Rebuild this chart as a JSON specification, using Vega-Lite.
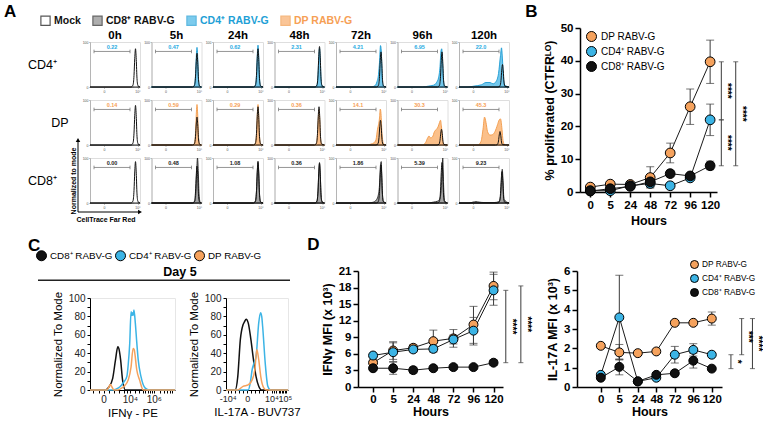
{
"padding": {"left": 3, "top": 3, "right": 0, "bottom": 0},
"background": "white",
"config": {
  "font": "Liberation Sans",
  "view": {"stroke": null},
  "axis": {"grid": false, "domainColor": "#000", "domainWidth": 1.5, "tickColor": "#000", "tickWidth": 1.5, "tickSize": 5, "labelColor": "#000", "labelFontSize": 11.5, "labelFontWeight": "bold", "labelPadding": 2, "titleColor": "#000", "titleFontSize": 12.5, "titleFontWeight": "bold", "titlePadding": 4, "labelOverlap": false},
  "axisY": {"labelOverlap": false, "labelBound": false},
  "axisLeft": {"labelOverlap": false},
  "axisQuantitative": {"labelOverlap": false},
  "axisX": {"labelAngle": 0},
  "title": {"fontSize": 17, "fontWeight": "bold", "anchor": "start", "frame": "bounds", "color": "#000"}
},
"spacing": 9,
"resolve": {"scale": {"fill": "independent", "stroke": "independent", "color": "independent"}},
"vconcat": [
{
 "spacing": 13,
 "resolve": {"scale": {"fill": "independent", "stroke": "independent", "color": "independent"}},
 "hconcat": [
 {
  "title": {"text": "A", "offset": -6, "dx": -24},
  "spacing": 0,
  "resolve": {"scale": {"fill": "independent", "stroke": "independent", "color": "independent"}},
  "vconcat": [
  {
   "width": 1, "height": 1,
   "data": {"values": [{"s": "M"}]},
   "transform": [{"filter": "false"}],
   "mark": {"type": "point", "shape": "square", "filled": true, "strokeWidth": 1.2},
   "encoding": {
    "fill": {"field": "s", "type": "nominal", "scale": {"domain": ["M", "8", "4", "D"], "range": ["transparent", "#8c8c8c", "#45b6e6", "#f9ad6c"]},
      "legend": {"orient": "none", "legendX": -50, "legendY": -13, "direction": "horizontal", "columns": 4, "title": null, "symbolType": "square", "symbolSize": 85, "symbolStrokeWidth": 1.2, "labelFontSize": 10.5, "labelFontWeight": "bold", "labelOffset": 3, "columnPadding": 9,
        "labelExpr": "datum.value == 'M' ? 'Mock' : datum.value == '8' ? 'CD8⁺ RABV-G' : datum.value == '4' ? 'CD4⁺ RABV-G' : 'DP RABV-G'",
        "labelColor": {"expr": "datum.value == '4' ? '#1e9fd6' : datum.value == 'D' ? '#f6a055' : '#111'"}}},
    "stroke": {"field": "s", "type": "nominal", "scale": {"domain": ["M", "8", "4", "D"], "range": ["#111111", "#262626", "#1b9bd3", "#f29a48"]},
      "legend": {"orient": "none", "legendX": -50, "legendY": -13, "direction": "horizontal", "columns": 4, "title": null, "symbolType": "square", "symbolSize": 85, "symbolStrokeWidth": 1.2, "labelFontSize": 10.5, "labelFontWeight": "bold", "labelOffset": 3, "columnPadding": 9,
        "labelExpr": "datum.value == 'M' ? 'Mock' : datum.value == '8' ? 'CD8⁺ RABV-G' : datum.value == '4' ? 'CD4⁺ RABV-G' : 'DP RABV-G'",
        "labelColor": {"expr": "datum.value == '4' ? '#1e9fd6' : datum.value == 'D' ? '#f6a055' : '#111'"}}}
   }
  },
  {
  "data": {"values": [
{"r":"CD4⁺","c":"0h","s":"M","x":0,"y":0},{"r":"CD4⁺","c":"0h","s":"M","x":82,"y":0},{"r":"CD4⁺","c":"0h","s":"M","x":86,"y":4.3},{"r":"CD4⁺","c":"0h","s":"M","x":88,"y":25.5},{"r":"CD4⁺","c":"0h","s":"M","x":89.5,"y":63.8},{"r":"CD4⁺","c":"0h","s":"M","x":91,"y":85},{"r":"CD4⁺","c":"0h","s":"M","x":92.5,"y":61.2},{"r":"CD4⁺","c":"0h","s":"M","x":94,"y":18.7},{"r":"CD4⁺","c":"0h","s":"M","x":96,"y":2.6},{"r":"CD4⁺","c":"0h","s":"M","x":100,"y":0},
{"r":"CD4⁺","c":"5h","s":"M","x":0,"y":0},{"r":"CD4⁺","c":"5h","s":"M","x":82,"y":0},{"r":"CD4⁺","c":"5h","s":"M","x":86,"y":3.8},{"r":"CD4⁺","c":"5h","s":"M","x":88,"y":22.5},{"r":"CD4⁺","c":"5h","s":"M","x":89.5,"y":56.3},{"r":"CD4⁺","c":"5h","s":"M","x":91,"y":75},{"r":"CD4⁺","c":"5h","s":"M","x":92.5,"y":54},{"r":"CD4⁺","c":"5h","s":"M","x":94,"y":16.5},{"r":"CD4⁺","c":"5h","s":"M","x":96,"y":2.3},{"r":"CD4⁺","c":"5h","s":"M","x":100,"y":0},
{"r":"CD4⁺","c":"5h","s":"4","x":0,"y":0},{"r":"CD4⁺","c":"5h","s":"4","x":82,"y":0},{"r":"CD4⁺","c":"5h","s":"4","x":86,"y":4.4},{"r":"CD4⁺","c":"5h","s":"4","x":88,"y":26.4},{"r":"CD4⁺","c":"5h","s":"4","x":89.5,"y":66},{"r":"CD4⁺","c":"5h","s":"4","x":91,"y":88},{"r":"CD4⁺","c":"5h","s":"4","x":92.5,"y":63.4},{"r":"CD4⁺","c":"5h","s":"4","x":94,"y":19.4},{"r":"CD4⁺","c":"5h","s":"4","x":96,"y":2.6},{"r":"CD4⁺","c":"5h","s":"4","x":100,"y":0},
{"r":"CD4⁺","c":"24h","s":"M","x":0,"y":0},{"r":"CD4⁺","c":"24h","s":"M","x":81,"y":0},{"r":"CD4⁺","c":"24h","s":"M","x":85,"y":4.3},{"r":"CD4⁺","c":"24h","s":"M","x":87,"y":25.5},{"r":"CD4⁺","c":"24h","s":"M","x":88.5,"y":63.8},{"r":"CD4⁺","c":"24h","s":"M","x":90,"y":85},{"r":"CD4⁺","c":"24h","s":"M","x":91.5,"y":61.2},{"r":"CD4⁺","c":"24h","s":"M","x":93,"y":18.7},{"r":"CD4⁺","c":"24h","s":"M","x":95,"y":2.6},{"r":"CD4⁺","c":"24h","s":"M","x":100,"y":0},
{"r":"CD4⁺","c":"24h","s":"4","x":0,"y":0},{"r":"CD4⁺","c":"24h","s":"4","x":81,"y":0},{"r":"CD4⁺","c":"24h","s":"4","x":85,"y":4.7},{"r":"CD4⁺","c":"24h","s":"4","x":87,"y":27.9},{"r":"CD4⁺","c":"24h","s":"4","x":88.5,"y":69.8},{"r":"CD4⁺","c":"24h","s":"4","x":90,"y":93},{"r":"CD4⁺","c":"24h","s":"4","x":91.5,"y":67},{"r":"CD4⁺","c":"24h","s":"4","x":93,"y":20.5},{"r":"CD4⁺","c":"24h","s":"4","x":95,"y":2.8},{"r":"CD4⁺","c":"24h","s":"4","x":100,"y":0},
{"r":"CD4⁺","c":"48h","s":"M","x":0,"y":0},{"r":"CD4⁺","c":"48h","s":"M","x":81,"y":0},{"r":"CD4⁺","c":"48h","s":"M","x":85,"y":4.5},{"r":"CD4⁺","c":"48h","s":"M","x":87,"y":27},{"r":"CD4⁺","c":"48h","s":"M","x":88.5,"y":67.5},{"r":"CD4⁺","c":"48h","s":"M","x":90,"y":90},{"r":"CD4⁺","c":"48h","s":"M","x":91.5,"y":64.8},{"r":"CD4⁺","c":"48h","s":"M","x":93,"y":19.8},{"r":"CD4⁺","c":"48h","s":"M","x":95,"y":2.7},{"r":"CD4⁺","c":"48h","s":"M","x":100,"y":0},
{"r":"CD4⁺","c":"48h","s":"4","x":0,"y":0},{"r":"CD4⁺","c":"48h","s":"4","x":81,"y":0},{"r":"CD4⁺","c":"48h","s":"4","x":85,"y":4.3},{"r":"CD4⁺","c":"48h","s":"4","x":87,"y":25.8},{"r":"CD4⁺","c":"48h","s":"4","x":88.5,"y":64.5},{"r":"CD4⁺","c":"48h","s":"4","x":90,"y":86},{"r":"CD4⁺","c":"48h","s":"4","x":91.5,"y":61.9},{"r":"CD4⁺","c":"48h","s":"4","x":93,"y":18.9},{"r":"CD4⁺","c":"48h","s":"4","x":95,"y":2.6},{"r":"CD4⁺","c":"48h","s":"4","x":100,"y":0},
{"r":"CD4⁺","c":"72h","s":"M","x":0,"y":0},{"r":"CD4⁺","c":"72h","s":"M","x":81,"y":0},{"r":"CD4⁺","c":"72h","s":"M","x":85,"y":3.9},{"r":"CD4⁺","c":"72h","s":"M","x":87,"y":23.4},{"r":"CD4⁺","c":"72h","s":"M","x":88.5,"y":58.5},{"r":"CD4⁺","c":"72h","s":"M","x":90,"y":78},{"r":"CD4⁺","c":"72h","s":"M","x":91.5,"y":56.2},{"r":"CD4⁺","c":"72h","s":"M","x":93,"y":17.2},{"r":"CD4⁺","c":"72h","s":"M","x":95,"y":2.3},{"r":"CD4⁺","c":"72h","s":"M","x":100,"y":0},
{"r":"CD4⁺","c":"72h","s":"4","x":0,"y":0},{"r":"CD4⁺","c":"72h","s":"4","x":70,"y":0},{"r":"CD4⁺","c":"72h","s":"4","x":78,"y":3},{"r":"CD4⁺","c":"72h","s":"4","x":82,"y":12},{"r":"CD4⁺","c":"72h","s":"4","x":85,"y":28},{"r":"CD4⁺","c":"72h","s":"4","x":87,"y":55},{"r":"CD4⁺","c":"72h","s":"4","x":89,"y":92},{"r":"CD4⁺","c":"72h","s":"4","x":90.5,"y":80},{"r":"CD4⁺","c":"72h","s":"4","x":92,"y":30},{"r":"CD4⁺","c":"72h","s":"4","x":94,"y":4},{"r":"CD4⁺","c":"72h","s":"4","x":100,"y":0},
{"r":"CD4⁺","c":"96h","s":"M","x":0,"y":0},{"r":"CD4⁺","c":"96h","s":"M","x":80,"y":0},{"r":"CD4⁺","c":"96h","s":"M","x":84,"y":3.9},{"r":"CD4⁺","c":"96h","s":"M","x":86,"y":23.4},{"r":"CD4⁺","c":"96h","s":"M","x":87.5,"y":58.5},{"r":"CD4⁺","c":"96h","s":"M","x":89,"y":78},{"r":"CD4⁺","c":"96h","s":"M","x":90.5,"y":56.2},{"r":"CD4⁺","c":"96h","s":"M","x":92,"y":17.2},{"r":"CD4⁺","c":"96h","s":"M","x":94,"y":2.3},{"r":"CD4⁺","c":"96h","s":"M","x":100,"y":0},
{"r":"CD4⁺","c":"96h","s":"4","x":0,"y":0},{"r":"CD4⁺","c":"96h","s":"4","x":50,"y":0},{"r":"CD4⁺","c":"96h","s":"4","x":62,"y":2},{"r":"CD4⁺","c":"96h","s":"4","x":72,"y":4},{"r":"CD4⁺","c":"96h","s":"4","x":78,"y":10},{"r":"CD4⁺","c":"96h","s":"4","x":82,"y":20},{"r":"CD4⁺","c":"96h","s":"4","x":85,"y":45},{"r":"CD4⁺","c":"96h","s":"4","x":87,"y":80},{"r":"CD4⁺","c":"96h","s":"4","x":88.5,"y":85},{"r":"CD4⁺","c":"96h","s":"4","x":90,"y":55},{"r":"CD4⁺","c":"96h","s":"4","x":92,"y":15},{"r":"CD4⁺","c":"96h","s":"4","x":94,"y":2},{"r":"CD4⁺","c":"96h","s":"4","x":100,"y":0},
{"r":"CD4⁺","c":"120h","s":"M","x":0,"y":0},{"r":"CD4⁺","c":"120h","s":"M","x":78,"y":0},{"r":"CD4⁺","c":"120h","s":"M","x":82,"y":2.5},{"r":"CD4⁺","c":"120h","s":"M","x":84,"y":15},{"r":"CD4⁺","c":"120h","s":"M","x":85.5,"y":37.5},{"r":"CD4⁺","c":"120h","s":"M","x":87,"y":50},{"r":"CD4⁺","c":"120h","s":"M","x":88.5,"y":36},{"r":"CD4⁺","c":"120h","s":"M","x":90,"y":11},{"r":"CD4⁺","c":"120h","s":"M","x":92,"y":1.5},{"r":"CD4⁺","c":"120h","s":"M","x":100,"y":0},
{"r":"CD4⁺","c":"120h","s":"4","x":0,"y":0},{"r":"CD4⁺","c":"120h","s":"4","x":18,"y":0},{"r":"CD4⁺","c":"120h","s":"4","x":30,"y":2},{"r":"CD4⁺","c":"120h","s":"4","x":45,"y":5},{"r":"CD4⁺","c":"120h","s":"4","x":54,"y":10},{"r":"CD4⁺","c":"120h","s":"4","x":62,"y":10},{"r":"CD4⁺","c":"120h","s":"4","x":68,"y":7},{"r":"CD4⁺","c":"120h","s":"4","x":74,"y":12},{"r":"CD4⁺","c":"120h","s":"4","x":79,"y":30},{"r":"CD4⁺","c":"120h","s":"4","x":83,"y":70},{"r":"CD4⁺","c":"120h","s":"4","x":85,"y":87},{"r":"CD4⁺","c":"120h","s":"4","x":87,"y":60},{"r":"CD4⁺","c":"120h","s":"4","x":89,"y":20},{"r":"CD4⁺","c":"120h","s":"4","x":91,"y":5},{"r":"CD4⁺","c":"120h","s":"4","x":100,"y":0},
{"r":"DP","c":"0h","s":"M","x":0,"y":0},{"r":"DP","c":"0h","s":"M","x":82,"y":0},{"r":"DP","c":"0h","s":"M","x":86,"y":4.4},{"r":"DP","c":"0h","s":"M","x":88,"y":26.4},{"r":"DP","c":"0h","s":"M","x":89.5,"y":66},{"r":"DP","c":"0h","s":"M","x":91,"y":88},{"r":"DP","c":"0h","s":"M","x":92.5,"y":63.4},{"r":"DP","c":"0h","s":"M","x":94,"y":19.4},{"r":"DP","c":"0h","s":"M","x":96,"y":2.6},{"r":"DP","c":"0h","s":"M","x":100,"y":0},
{"r":"DP","c":"5h","s":"M","x":0,"y":0},{"r":"DP","c":"5h","s":"M","x":82,"y":0},{"r":"DP","c":"5h","s":"M","x":86,"y":3.1},{"r":"DP","c":"5h","s":"M","x":88,"y":18.6},{"r":"DP","c":"5h","s":"M","x":89.5,"y":46.5},{"r":"DP","c":"5h","s":"M","x":91,"y":62},{"r":"DP","c":"5h","s":"M","x":92.5,"y":44.6},{"r":"DP","c":"5h","s":"M","x":94,"y":13.6},{"r":"DP","c":"5h","s":"M","x":96,"y":1.9},{"r":"DP","c":"5h","s":"M","x":100,"y":0},
{"r":"DP","c":"5h","s":"D","x":0,"y":0},{"r":"DP","c":"5h","s":"D","x":82,"y":0},{"r":"DP","c":"5h","s":"D","x":86,"y":4.5},{"r":"DP","c":"5h","s":"D","x":88,"y":27},{"r":"DP","c":"5h","s":"D","x":89.5,"y":67.5},{"r":"DP","c":"5h","s":"D","x":91,"y":90},{"r":"DP","c":"5h","s":"D","x":92.5,"y":64.8},{"r":"DP","c":"5h","s":"D","x":94,"y":19.8},{"r":"DP","c":"5h","s":"D","x":96,"y":2.7},{"r":"DP","c":"5h","s":"D","x":100,"y":0},
{"r":"DP","c":"24h","s":"M","x":0,"y":0},{"r":"DP","c":"24h","s":"M","x":81,"y":0},{"r":"DP","c":"24h","s":"M","x":85,"y":4.3},{"r":"DP","c":"24h","s":"M","x":87,"y":25.5},{"r":"DP","c":"24h","s":"M","x":88.5,"y":63.8},{"r":"DP","c":"24h","s":"M","x":90,"y":85},{"r":"DP","c":"24h","s":"M","x":91.5,"y":61.2},{"r":"DP","c":"24h","s":"M","x":93,"y":18.7},{"r":"DP","c":"24h","s":"M","x":95,"y":2.6},{"r":"DP","c":"24h","s":"M","x":100,"y":0},
{"r":"DP","c":"24h","s":"D","x":0,"y":0},{"r":"DP","c":"24h","s":"D","x":81,"y":0},{"r":"DP","c":"24h","s":"D","x":85,"y":4.5},{"r":"DP","c":"24h","s":"D","x":87,"y":27},{"r":"DP","c":"24h","s":"D","x":88.5,"y":67.5},{"r":"DP","c":"24h","s":"D","x":90,"y":90},{"r":"DP","c":"24h","s":"D","x":91.5,"y":64.8},{"r":"DP","c":"24h","s":"D","x":93,"y":19.8},{"r":"DP","c":"24h","s":"D","x":95,"y":2.7},{"r":"DP","c":"24h","s":"D","x":100,"y":0},
{"r":"DP","c":"48h","s":"M","x":0,"y":0},{"r":"DP","c":"48h","s":"M","x":80,"y":0},{"r":"DP","c":"48h","s":"M","x":84,"y":4.3},{"r":"DP","c":"48h","s":"M","x":86,"y":25.5},{"r":"DP","c":"48h","s":"M","x":87.5,"y":63.8},{"r":"DP","c":"48h","s":"M","x":89,"y":85},{"r":"DP","c":"48h","s":"M","x":90.5,"y":61.2},{"r":"DP","c":"48h","s":"M","x":92,"y":18.7},{"r":"DP","c":"48h","s":"M","x":94,"y":2.6},{"r":"DP","c":"48h","s":"M","x":100,"y":0},
{"r":"DP","c":"48h","s":"D","x":0,"y":0},{"r":"DP","c":"48h","s":"D","x":80,"y":0},{"r":"DP","c":"48h","s":"D","x":84,"y":3.9},{"r":"DP","c":"48h","s":"D","x":86,"y":23.4},{"r":"DP","c":"48h","s":"D","x":87.5,"y":58.5},{"r":"DP","c":"48h","s":"D","x":89,"y":78},{"r":"DP","c":"48h","s":"D","x":90.5,"y":56.2},{"r":"DP","c":"48h","s":"D","x":92,"y":17.2},{"r":"DP","c":"48h","s":"D","x":94,"y":2.3},{"r":"DP","c":"48h","s":"D","x":100,"y":0},
{"r":"DP","c":"72h","s":"M","x":0,"y":0},{"r":"DP","c":"72h","s":"M","x":80,"y":0},{"r":"DP","c":"72h","s":"M","x":84,"y":2.8},{"r":"DP","c":"72h","s":"M","x":86,"y":16.5},{"r":"DP","c":"72h","s":"M","x":87.5,"y":41.3},{"r":"DP","c":"72h","s":"M","x":89,"y":55},{"r":"DP","c":"72h","s":"M","x":90.5,"y":39.6},{"r":"DP","c":"72h","s":"M","x":92,"y":12.1},{"r":"DP","c":"72h","s":"M","x":94,"y":1.7},{"r":"DP","c":"72h","s":"M","x":100,"y":0},
{"r":"DP","c":"72h","s":"D","x":0,"y":0},{"r":"DP","c":"72h","s":"D","x":60,"y":0},{"r":"DP","c":"72h","s":"D","x":70,"y":2},{"r":"DP","c":"72h","s":"D","x":76,"y":5},{"r":"DP","c":"72h","s":"D","x":80,"y":12},{"r":"DP","c":"72h","s":"D","x":83,"y":35},{"r":"DP","c":"72h","s":"D","x":85,"y":45},{"r":"DP","c":"72h","s":"D","x":87,"y":60},{"r":"DP","c":"72h","s":"D","x":88.5,"y":80},{"r":"DP","c":"72h","s":"D","x":90,"y":70},{"r":"DP","c":"72h","s":"D","x":92,"y":25},{"r":"DP","c":"72h","s":"D","x":95,"y":3},{"r":"DP","c":"72h","s":"D","x":100,"y":0},
{"r":"DP","c":"96h","s":"M","x":0,"y":0},{"r":"DP","c":"96h","s":"M","x":79,"y":0},{"r":"DP","c":"96h","s":"M","x":83,"y":1.8},{"r":"DP","c":"96h","s":"M","x":85,"y":10.5},{"r":"DP","c":"96h","s":"M","x":86.5,"y":26.3},{"r":"DP","c":"96h","s":"M","x":88,"y":35},{"r":"DP","c":"96h","s":"M","x":89.5,"y":25.2},{"r":"DP","c":"96h","s":"M","x":91,"y":7.7},{"r":"DP","c":"96h","s":"M","x":93,"y":1.1},{"r":"DP","c":"96h","s":"M","x":100,"y":0},
{"r":"DP","c":"96h","s":"D","x":0,"y":0},{"r":"DP","c":"96h","s":"D","x":50,"y":0},{"r":"DP","c":"96h","s":"D","x":56,"y":5},{"r":"DP","c":"96h","s":"D","x":60,"y":15},{"r":"DP","c":"96h","s":"D","x":63,"y":20},{"r":"DP","c":"96h","s":"D","x":66,"y":16},{"r":"DP","c":"96h","s":"D","x":70,"y":18},{"r":"DP","c":"96h","s":"D","x":74,"y":30},{"r":"DP","c":"96h","s":"D","x":78,"y":35},{"r":"DP","c":"96h","s":"D","x":81,"y":40},{"r":"DP","c":"96h","s":"D","x":84,"y":50},{"r":"DP","c":"96h","s":"D","x":86,"y":55},{"r":"DP","c":"96h","s":"D","x":88,"y":40},{"r":"DP","c":"96h","s":"D","x":90,"y":12},{"r":"DP","c":"96h","s":"D","x":92,"y":2},{"r":"DP","c":"96h","s":"D","x":100,"y":0},
{"r":"DP","c":"120h","s":"M","x":0,"y":0},{"r":"DP","c":"120h","s":"M","x":73,"y":0},{"r":"DP","c":"120h","s":"M","x":77,"y":1.5},{"r":"DP","c":"120h","s":"M","x":79,"y":9},{"r":"DP","c":"120h","s":"M","x":80.5,"y":22.5},{"r":"DP","c":"120h","s":"M","x":82,"y":30},{"r":"DP","c":"120h","s":"M","x":83.5,"y":21.6},{"r":"DP","c":"120h","s":"M","x":85,"y":6.6},{"r":"DP","c":"120h","s":"M","x":87,"y":0.9},{"r":"DP","c":"120h","s":"M","x":100,"y":0},
{"r":"DP","c":"120h","s":"D","x":0,"y":0},{"r":"DP","c":"120h","s":"D","x":38,"y":0},{"r":"DP","c":"120h","s":"D","x":44,"y":8},{"r":"DP","c":"120h","s":"D","x":48,"y":35},{"r":"DP","c":"120h","s":"D","x":51,"y":62},{"r":"DP","c":"120h","s":"D","x":54,"y":50},{"r":"DP","c":"120h","s":"D","x":57,"y":30},{"r":"DP","c":"120h","s":"D","x":62,"y":22},{"r":"DP","c":"120h","s":"D","x":67,"y":23},{"r":"DP","c":"120h","s":"D","x":72,"y":30},{"r":"DP","c":"120h","s":"D","x":77,"y":45},{"r":"DP","c":"120h","s":"D","x":80,"y":55},{"r":"DP","c":"120h","s":"D","x":83,"y":58},{"r":"DP","c":"120h","s":"D","x":86,"y":35},{"r":"DP","c":"120h","s":"D","x":88,"y":10},{"r":"DP","c":"120h","s":"D","x":91,"y":1},{"r":"DP","c":"120h","s":"D","x":100,"y":0},
{"r":"CD8⁺","c":"0h","s":"M","x":0,"y":0},{"r":"CD8⁺","c":"0h","s":"M","x":82,"y":0},{"r":"CD8⁺","c":"0h","s":"M","x":86,"y":4.6},{"r":"CD8⁺","c":"0h","s":"M","x":88,"y":27.6},{"r":"CD8⁺","c":"0h","s":"M","x":89.5,"y":69},{"r":"CD8⁺","c":"0h","s":"M","x":91,"y":92},{"r":"CD8⁺","c":"0h","s":"M","x":92.5,"y":66.2},{"r":"CD8⁺","c":"0h","s":"M","x":94,"y":20.2},{"r":"CD8⁺","c":"0h","s":"M","x":96,"y":2.8},{"r":"CD8⁺","c":"0h","s":"M","x":100,"y":0},
{"r":"CD8⁺","c":"5h","s":"M","x":0,"y":0},{"r":"CD8⁺","c":"5h","s":"M","x":82,"y":0},{"r":"CD8⁺","c":"5h","s":"M","x":86,"y":4.1},{"r":"CD8⁺","c":"5h","s":"M","x":88,"y":24.6},{"r":"CD8⁺","c":"5h","s":"M","x":89.5,"y":61.5},{"r":"CD8⁺","c":"5h","s":"M","x":91,"y":82},{"r":"CD8⁺","c":"5h","s":"M","x":92.5,"y":59},{"r":"CD8⁺","c":"5h","s":"M","x":94,"y":18},{"r":"CD8⁺","c":"5h","s":"M","x":96,"y":2.5},{"r":"CD8⁺","c":"5h","s":"M","x":100,"y":0},
{"r":"CD8⁺","c":"5h","s":"8","x":0,"y":0},{"r":"CD8⁺","c":"5h","s":"8","x":83,"y":0},{"r":"CD8⁺","c":"5h","s":"8","x":87,"y":5},{"r":"CD8⁺","c":"5h","s":"8","x":89,"y":30},{"r":"CD8⁺","c":"5h","s":"8","x":90.5,"y":75},{"r":"CD8⁺","c":"5h","s":"8","x":92,"y":100},{"r":"CD8⁺","c":"5h","s":"8","x":93.5,"y":72},{"r":"CD8⁺","c":"5h","s":"8","x":95,"y":22},{"r":"CD8⁺","c":"5h","s":"8","x":97,"y":3},{"r":"CD8⁺","c":"5h","s":"8","x":100,"y":0},
{"r":"CD8⁺","c":"24h","s":"M","x":0,"y":0},{"r":"CD8⁺","c":"24h","s":"M","x":81,"y":0},{"r":"CD8⁺","c":"24h","s":"M","x":85,"y":4.5},{"r":"CD8⁺","c":"24h","s":"M","x":87,"y":27},{"r":"CD8⁺","c":"24h","s":"M","x":88.5,"y":67.5},{"r":"CD8⁺","c":"24h","s":"M","x":90,"y":90},{"r":"CD8⁺","c":"24h","s":"M","x":91.5,"y":64.8},{"r":"CD8⁺","c":"24h","s":"M","x":93,"y":19.8},{"r":"CD8⁺","c":"24h","s":"M","x":95,"y":2.7},{"r":"CD8⁺","c":"24h","s":"M","x":100,"y":0},
{"r":"CD8⁺","c":"24h","s":"8","x":0,"y":0},{"r":"CD8⁺","c":"24h","s":"8","x":81,"y":0},{"r":"CD8⁺","c":"24h","s":"8","x":85,"y":4.7},{"r":"CD8⁺","c":"24h","s":"8","x":87,"y":27.9},{"r":"CD8⁺","c":"24h","s":"8","x":88.5,"y":69.8},{"r":"CD8⁺","c":"24h","s":"8","x":90,"y":93},{"r":"CD8⁺","c":"24h","s":"8","x":91.5,"y":67},{"r":"CD8⁺","c":"24h","s":"8","x":93,"y":20.5},{"r":"CD8⁺","c":"24h","s":"8","x":95,"y":2.8},{"r":"CD8⁺","c":"24h","s":"8","x":100,"y":0},
{"r":"CD8⁺","c":"48h","s":"M","x":0,"y":0},{"r":"CD8⁺","c":"48h","s":"M","x":81,"y":0},{"r":"CD8⁺","c":"48h","s":"M","x":85,"y":4.4},{"r":"CD8⁺","c":"48h","s":"M","x":87,"y":26.4},{"r":"CD8⁺","c":"48h","s":"M","x":88.5,"y":66},{"r":"CD8⁺","c":"48h","s":"M","x":90,"y":88},{"r":"CD8⁺","c":"48h","s":"M","x":91.5,"y":63.4},{"r":"CD8⁺","c":"48h","s":"M","x":93,"y":19.4},{"r":"CD8⁺","c":"48h","s":"M","x":95,"y":2.6},{"r":"CD8⁺","c":"48h","s":"M","x":100,"y":0},
{"r":"CD8⁺","c":"48h","s":"8","x":0,"y":0},{"r":"CD8⁺","c":"48h","s":"8","x":81,"y":0},{"r":"CD8⁺","c":"48h","s":"8","x":85,"y":4.5},{"r":"CD8⁺","c":"48h","s":"8","x":87,"y":27},{"r":"CD8⁺","c":"48h","s":"8","x":88.5,"y":67.5},{"r":"CD8⁺","c":"48h","s":"8","x":90,"y":90},{"r":"CD8⁺","c":"48h","s":"8","x":91.5,"y":64.8},{"r":"CD8⁺","c":"48h","s":"8","x":93,"y":19.8},{"r":"CD8⁺","c":"48h","s":"8","x":95,"y":2.7},{"r":"CD8⁺","c":"48h","s":"8","x":100,"y":0},
{"r":"CD8⁺","c":"72h","s":"M","x":0,"y":0},{"r":"CD8⁺","c":"72h","s":"M","x":81,"y":0},{"r":"CD8⁺","c":"72h","s":"M","x":85,"y":4.3},{"r":"CD8⁺","c":"72h","s":"M","x":87,"y":25.5},{"r":"CD8⁺","c":"72h","s":"M","x":88.5,"y":63.8},{"r":"CD8⁺","c":"72h","s":"M","x":90,"y":85},{"r":"CD8⁺","c":"72h","s":"M","x":91.5,"y":61.2},{"r":"CD8⁺","c":"72h","s":"M","x":93,"y":18.7},{"r":"CD8⁺","c":"72h","s":"M","x":95,"y":2.6},{"r":"CD8⁺","c":"72h","s":"M","x":100,"y":0},
{"r":"CD8⁺","c":"72h","s":"8","x":0,"y":0},{"r":"CD8⁺","c":"72h","s":"8","x":65,"y":0},{"r":"CD8⁺","c":"72h","s":"8","x":75,"y":2},{"r":"CD8⁺","c":"72h","s":"8","x":80,"y":6},{"r":"CD8⁺","c":"72h","s":"8","x":84,"y":15},{"r":"CD8⁺","c":"72h","s":"8","x":87,"y":40},{"r":"CD8⁺","c":"72h","s":"8","x":89,"y":85},{"r":"CD8⁺","c":"72h","s":"8","x":90.5,"y":92},{"r":"CD8⁺","c":"72h","s":"8","x":92,"y":40},{"r":"CD8⁺","c":"72h","s":"8","x":94,"y":5},{"r":"CD8⁺","c":"72h","s":"8","x":100,"y":0},
{"r":"CD8⁺","c":"96h","s":"M","x":0,"y":0},{"r":"CD8⁺","c":"96h","s":"M","x":80,"y":0},{"r":"CD8⁺","c":"96h","s":"M","x":84,"y":4.5},{"r":"CD8⁺","c":"96h","s":"M","x":86,"y":27},{"r":"CD8⁺","c":"96h","s":"M","x":87.5,"y":67.5},{"r":"CD8⁺","c":"96h","s":"M","x":89,"y":90},{"r":"CD8⁺","c":"96h","s":"M","x":90.5,"y":64.8},{"r":"CD8⁺","c":"96h","s":"M","x":92,"y":19.8},{"r":"CD8⁺","c":"96h","s":"M","x":94,"y":2.7},{"r":"CD8⁺","c":"96h","s":"M","x":100,"y":0},
{"r":"CD8⁺","c":"96h","s":"8","x":0,"y":0},{"r":"CD8⁺","c":"96h","s":"8","x":60,"y":0},{"r":"CD8⁺","c":"96h","s":"8","x":72,"y":2},{"r":"CD8⁺","c":"96h","s":"8","x":80,"y":4},{"r":"CD8⁺","c":"96h","s":"8","x":84,"y":8},{"r":"CD8⁺","c":"96h","s":"8","x":87,"y":25},{"r":"CD8⁺","c":"96h","s":"8","x":89,"y":70},{"r":"CD8⁺","c":"96h","s":"8","x":90.5,"y":100},{"r":"CD8⁺","c":"96h","s":"8","x":92,"y":45},{"r":"CD8⁺","c":"96h","s":"8","x":94,"y":5},{"r":"CD8⁺","c":"96h","s":"8","x":100,"y":0},
{"r":"CD8⁺","c":"120h","s":"M","x":0,"y":0},{"r":"CD8⁺","c":"120h","s":"M","x":77,"y":0},{"r":"CD8⁺","c":"120h","s":"M","x":81,"y":3.5},{"r":"CD8⁺","c":"120h","s":"M","x":83,"y":21},{"r":"CD8⁺","c":"120h","s":"M","x":84.5,"y":52.5},{"r":"CD8⁺","c":"120h","s":"M","x":86,"y":70},{"r":"CD8⁺","c":"120h","s":"M","x":87.5,"y":50.4},{"r":"CD8⁺","c":"120h","s":"M","x":89,"y":15.4},{"r":"CD8⁺","c":"120h","s":"M","x":91,"y":2.1},{"r":"CD8⁺","c":"120h","s":"M","x":100,"y":0},
{"r":"CD8⁺","c":"120h","s":"8","x":0,"y":0},{"r":"CD8⁺","c":"120h","s":"8","x":20,"y":0},{"r":"CD8⁺","c":"120h","s":"8","x":28,"y":2},{"r":"CD8⁺","c":"120h","s":"8","x":34,"y":3},{"r":"CD8⁺","c":"120h","s":"8","x":40,"y":2},{"r":"CD8⁺","c":"120h","s":"8","x":50,"y":1},{"r":"CD8⁺","c":"120h","s":"8","x":70,"y":1},{"r":"CD8⁺","c":"120h","s":"8","x":80,"y":3},{"r":"CD8⁺","c":"120h","s":"8","x":83,"y":15},{"r":"CD8⁺","c":"120h","s":"8","x":85,"y":50},{"r":"CD8⁺","c":"120h","s":"8","x":86.5,"y":75},{"r":"CD8⁺","c":"120h","s":"8","x":88,"y":50},{"r":"CD8⁺","c":"120h","s":"8","x":90,"y":8},{"r":"CD8⁺","c":"120h","s":"8","x":100,"y":0},
{"r":"CD4⁺","c":"0h","pct":"0.22","lo":8,"hi":80},{"r":"CD4⁺","c":"5h","pct":"0.47","lo":8,"hi":80},{"r":"CD4⁺","c":"24h","pct":"0.62","lo":8,"hi":80},{"r":"CD4⁺","c":"48h","pct":"2.31","lo":8,"hi":80},{"r":"CD4⁺","c":"72h","pct":"4.21","lo":8,"hi":80},{"r":"CD4⁺","c":"96h","pct":"6.95","lo":8,"hi":80},{"r":"CD4⁺","c":"120h","pct":"22.0","lo":8,"hi":80},
{"r":"DP","c":"0h","pct":"0.14","lo":8,"hi":80},{"r":"DP","c":"5h","pct":"0.59","lo":8,"hi":80},{"r":"DP","c":"24h","pct":"0.29","lo":8,"hi":80},{"r":"DP","c":"48h","pct":"0.36","lo":8,"hi":80},{"r":"DP","c":"72h","pct":"14.1","lo":8,"hi":80},{"r":"DP","c":"96h","pct":"30.3","lo":8,"hi":80},{"r":"DP","c":"120h","pct":"45.3","lo":8,"hi":80},
{"r":"CD8⁺","c":"0h","pct":"0.00","lo":8,"hi":80},{"r":"CD8⁺","c":"5h","pct":"0.48","lo":8,"hi":80},{"r":"CD8⁺","c":"24h","pct":"1.08","lo":8,"hi":80},{"r":"CD8⁺","c":"48h","pct":"0.36","lo":8,"hi":80},{"r":"CD8⁺","c":"72h","pct":"1.86","lo":8,"hi":80},{"r":"CD8⁺","c":"96h","pct":"5.39","lo":8,"hi":80},{"r":"CD8⁺","c":"120h","pct":"9.23","lo":8,"hi":80}
  ]},
  "bounds": "flush",
  "spacing": {"row": 13, "column": 11.5},
  "resolve": {"axis": {"x": "independent", "y": "independent"}},
  "facet": {
   "row": {"field": "r", "type": "nominal", "sort": ["CD4⁺", "DP", "CD8⁺"], "title": null,
     "header": {"labelOrient": "left", "labelAngle": 0, "labelAlign": "right", "labelFontSize": 12.5, "labelPadding": 4}},
   "column": {"field": "c", "type": "nominal", "sort": ["0h", "5h", "24h", "48h", "72h", "96h", "120h"], "title": null,
     "header": {"labelOrient": "top", "labelFontSize": 11.5, "labelFontWeight": "bold", "labelPadding": 1}}
  },
  "spec": {
   "width": 50, "height": 45,
   "view": {"stroke": "#dedede"},
   "layer": [
    {"transform": [{"filter": "datum.s && datum.s != 'M'"}],
     "mark": {"type": "area", "interpolate": "monotone", "strokeWidth": 0.9},
     "encoding": {
      "x": {"field": "x", "type": "quantitative", "scale": {"domain": [0, 100], "nice": false}, "title": null,
        "axis": {"values": [28, 58, 78, 95], "labelExpr": "datum.value == 28 ? '0' : datum.value == 58 ? '10⁴' : datum.value == 78 ? '10⁵' : '10⁶'", "labelFontSize": 3.5, "labelFontWeight": "normal", "labelColor": "#555", "labelPadding": 0.5, "tickSize": 1.5, "tickWidth": 0.6, "domainWidth": 0.6, "domainColor": "#999", "tickColor": "#999", "labelFlush": false, "labelOverlap": false}},
      "y": {"field": "y", "type": "quantitative", "scale": {"domain": [0, 100], "nice": false}, "title": null,
        "axis": {"values": [0, 20, 40, 60, 80, 100], "labelFontSize": 3.5, "labelFontWeight": "normal", "labelColor": "#555", "labelPadding": 0.5, "tickSize": 1.5, "tickWidth": 0.6, "domainWidth": 0.6, "domainColor": "#999", "tickColor": "#999", "labelOverlap": false}},
      "fill": {"field": "s", "type": "nominal", "scale": {"domain": ["M", "8", "4", "D"], "range": ["transparent", "#a3a3a3", "#72c7ec", "#fbc08a"]}, "legend": null},
      "stroke": {"field": "s", "type": "nominal", "scale": {"domain": ["M", "8", "4", "D"], "range": ["#111111", "#262626", "#1b9bd3", "#f29a48"]}, "legend": null}
     }},
    {"transform": [{"filter": "datum.s == 'M'"}],
     "mark": {"type": "area", "interpolate": "monotone", "strokeWidth": 1},
     "encoding": {
      "x": {"field": "x", "type": "quantitative", "title": null},
      "y": {"field": "y", "type": "quantitative", "title": null},
      "fill": {"field": "s", "type": "nominal", "legend": null},
      "stroke": {"field": "s", "type": "nominal", "legend": null}
     }},
    {"transform": [{"filter": "datum.pct"}],
     "mark": {"type": "rule", "color": "#7a7a7a", "strokeWidth": 0.8},
     "encoding": {"x": {"field": "lo", "type": "quantitative", "title": null}, "x2": {"field": "hi"}, "y": {"datum": 79}}},
    {"transform": [{"filter": "datum.pct"}],
     "mark": {"type": "rule", "color": "#7a7a7a", "strokeWidth": 0.8},
     "encoding": {"x": {"field": "lo", "type": "quantitative", "title": null}, "y": {"datum": 75}, "y2": {"datum": 83}}},
    {"transform": [{"filter": "datum.pct"}],
     "mark": {"type": "rule", "color": "#7a7a7a", "strokeWidth": 0.8},
     "encoding": {"x": {"field": "hi", "type": "quantitative", "title": null}, "y": {"datum": 75}, "y2": {"datum": 83}}},
    {"transform": [{"filter": "datum.pct"}],
     "mark": {"type": "text", "fontSize": 5.5, "fontWeight": "bold", "baseline": "middle"},
     "encoding": {"x": {"datum": 44}, "y": {"datum": 89}, "text": {"field": "pct"},
       "color": {"condition": [{"test": "datum.r == 'CD4⁺'", "value": "#29abe2"}, {"test": "datum.r == 'DP'", "value": "#f6a055"}], "value": "#222"}}},
    {"transform": [{"filter": "datum.pct && datum.r == 'CD8⁺' && datum.c == '0h'"}],
     "mark": {"type": "text", "angle": 270, "fontSize": 7, "fontWeight": "bold", "baseline": "middle", "align": "center", "color": "#000"},
     "encoding": {"x": {"datum": -33}, "y": {"datum": 49}, "text": {"value": "Normalized to mode"}}},
    {"transform": [{"filter": "datum.pct && datum.r == 'CD8⁺' && datum.c == '0h'"}],
     "mark": {"type": "rule", "color": "#000", "strokeWidth": 1},
     "encoding": {"x": {"datum": -24}, "y": {"datum": -20}, "y2": {"datum": 137}}},
    {"transform": [{"filter": "datum.pct && datum.r == 'CD8⁺' && datum.c == '0h'"}],
     "mark": {"type": "rule", "color": "#000", "strokeWidth": 1},
     "encoding": {"x": {"datum": -24}, "x2": {"datum": 97}, "y": {"datum": -20}}},
    {"transform": [{"filter": "datum.pct && datum.r == 'CD8⁺' && datum.c == '0h'"}],
     "mark": {"type": "point", "shape": "triangle-up", "filled": true, "size": 20, "color": "#000", "opacity": 1},
     "encoding": {"x": {"datum": -24}, "y": {"datum": 140}}},
    {"transform": [{"filter": "datum.pct && datum.r == 'CD8⁺' && datum.c == '0h'"}],
     "mark": {"type": "point", "shape": "triangle-right", "filled": true, "size": 20, "color": "#000", "opacity": 1},
     "encoding": {"x": {"datum": 100}, "y": {"datum": -20}}},
    {"transform": [{"filter": "datum.pct && datum.r == 'CD8⁺' && datum.c == '0h'"}],
     "mark": {"type": "text", "fontSize": 7, "fontWeight": "bold", "baseline": "middle", "align": "center", "color": "#000"},
     "encoding": {"x": {"datum": 32}, "y": {"datum": -37}, "text": {"value": "CellTrace Far Red"}}}
   ]
  }
  }
  ]
 },
 {
  "title": {"text": "B", "dx": -18, "offset": 1},
  "width": 137, "height": 164,
  "resolve": {"scale": {"x": "independent"}, "axis": {"y": "independent"}},
  "layer": [
   {"data": {"values": [
{"h":"0","g":"DP RABV-G","v":1.5,"lo":1.1,"hi":1.9},{"h":"5","g":"DP RABV-G","v":2.4,"lo":2.0,"hi":2.8},{"h":"24","g":"DP RABV-G","v":2.3,"lo":1.8,"hi":2.8},{"h":"48","g":"DP RABV-G","v":4.4,"lo":1.2,"hi":7.7},{"h":"72","g":"DP RABV-G","v":11.9,"lo":8.9,"hi":14.9},{"h":"96","g":"DP RABV-G","v":26,"lo":20.6,"hi":31.4},{"h":"120","g":"DP RABV-G","v":39.7,"lo":33.1,"hi":46.3},
{"h":"0","g":"CD4⁺ RABV-G","v":0.4,"lo":0.2,"hi":0.6},{"h":"5","g":"CD4⁺ RABV-G","v":0.4,"lo":0.1,"hi":0.7},{"h":"24","g":"CD4⁺ RABV-G","v":1.9,"lo":1.4,"hi":2.4},{"h":"48","g":"CD4⁺ RABV-G","v":2.6,"lo":1.6,"hi":3.6},{"h":"72","g":"CD4⁺ RABV-G","v":1.9,"lo":1.3,"hi":2.5},{"h":"96","g":"CD4⁺ RABV-G","v":4.3,"lo":3.6,"hi":5.0},{"h":"120","g":"CD4⁺ RABV-G","v":22,"lo":17.2,"hi":26.8},
{"h":"0","g":"CD8⁺ RABV-G","v":0.3,"lo":0.1,"hi":0.5},{"h":"5","g":"CD8⁺ RABV-G","v":1.0,"lo":0.5,"hi":1.5},{"h":"24","g":"CD8⁺ RABV-G","v":1.7,"lo":1.2,"hi":2.2},{"h":"48","g":"CD8⁺ RABV-G","v":3.1,"lo":1.5,"hi":4.8},{"h":"72","g":"CD8⁺ RABV-G","v":5.6,"lo":4.6,"hi":6.6},{"h":"96","g":"CD8⁺ RABV-G","v":4.9,"lo":4.2,"hi":5.6},{"h":"120","g":"CD8⁺ RABV-G","v":8,"lo":6.8,"hi":9.4}
    ]},
    "layer": [
     {"mark": {"type": "line", "color": "#1a1a1a", "strokeWidth": 1},
      "encoding": {"x": {"field": "h", "type": "ordinal", "sort": ["0","5","24","48","72","96","120"], "scale": {"type": "point", "padding": 0.43, "align": 0.6}, "title": "Hours", "axis": {"labelOverlap": false}},
        "y": {"field": "v", "type": "quantitative", "scale": {"domain": [0, 50], "nice": false}, "title": "% proliferated (CTFRᴸᴼ)", "axis": {"values": [0, 10, 20, 30, 40, 50], "labelOverlap": false, "labelBound": false}},
        "detail": {"field": "g"}}},
     {"mark": {"type": "rule", "color": "#3a3a3a", "strokeWidth": 1},
      "encoding": {"x": {"field": "h", "type": "ordinal", "sort": ["0","5","24","48","72","96","120"], "title": "Hours", "axis": {"labelOverlap": false}},
        "y": {"field": "lo", "type": "quantitative", "title": "% proliferated (CTFRᴸᴼ)", "axis": {"values": [0, 10, 20, 30, 40, 50], "labelOverlap": false, "labelBound": false}}, "y2": {"field": "hi"}}},
     {"mark": {"type": "tick", "orient": "horizontal", "color": "#3a3a3a", "size": 8, "thickness": 1},
      "encoding": {"x": {"field": "h", "type": "ordinal", "sort": ["0","5","24","48","72","96","120"], "title": "Hours", "axis": {"labelOverlap": false}},
        "y": {"field": "hi", "type": "quantitative", "title": "% proliferated (CTFRᴸᴼ)", "axis": {"values": [0, 10, 20, 30, 40, 50], "labelOverlap": false, "labelBound": false}}}},
     {"mark": {"type": "tick", "orient": "horizontal", "color": "#3a3a3a", "size": 8, "thickness": 1},
      "encoding": {"x": {"field": "h", "type": "ordinal", "sort": ["0","5","24","48","72","96","120"], "title": "Hours", "axis": {"labelOverlap": false}},
        "y": {"field": "lo", "type": "quantitative", "title": "% proliferated (CTFRᴸᴼ)", "axis": {"values": [0, 10, 20, 30, 40, 50], "labelOverlap": false, "labelBound": false}}}},
     {"mark": {"type": "point", "filled": true, "size": 95, "stroke": "#000", "strokeWidth": 1, "opacity": 1},
      "encoding": {"x": {"field": "h", "type": "ordinal", "sort": ["0","5","24","48","72","96","120"], "title": "Hours", "axis": {"labelOverlap": false}},
        "y": {"field": "v", "type": "quantitative", "title": "% proliferated (CTFRᴸᴼ)", "axis": {"values": [0, 10, 20, 30, 40, 50], "labelOverlap": false, "labelBound": false}},
        "fill": {"field": "g", "type": "nominal", "scale": {"domain": ["DP RABV-G", "CD4⁺ RABV-G", "CD8⁺ RABV-G"], "range": ["#f5a25d", "#3cb4e5", "#111111"]},
          "legend": {"orient": "none", "legendX": 6, "legendY": 3, "title": null, "symbolType": "circle", "symbolSize": 100, "symbolStrokeColor": "#000", "symbolStrokeWidth": 1, "labelFontSize": 10, "labelFontWeight": "normal", "labelOffset": 4, "rowPadding": 0}}}}
    ]},
   {"data": {"values": [
{"k":1,"y1":39.7,"y2":22,"ym":30.85,"t":"****"},{"k":1,"y1":22,"y2":8,"ym":15,"t":"****"},{"k":2,"y1":39.7,"y2":8,"ym":23.85,"t":"****"}
    ]},
    "layer": [
     {"mark": {"type": "rule", "color": "#3a3a3a", "strokeWidth": 1},
      "encoding": {"x": {"field": "k", "type": "quantitative", "scale": {"domain": [-8.81, 0.70], "nice": false, "zero": false}, "axis": null},
        "y": {"field": "y1", "type": "quantitative", "axis": null}, "y2": {"field": "y2"}}},
     {"mark": {"type": "tick", "orient": "horizontal", "color": "#3a3a3a", "size": 5, "thickness": 1},
      "encoding": {"x": {"field": "k", "type": "quantitative", "axis": null}, "y": {"field": "y1", "type": "quantitative", "axis": null}}},
     {"mark": {"type": "tick", "orient": "horizontal", "color": "#3a3a3a", "size": 5, "thickness": 1},
      "encoding": {"x": {"field": "k", "type": "quantitative", "axis": null}, "y": {"field": "y2", "type": "quantitative", "axis": null}}},
     {"mark": {"type": "text", "angle": 90, "fontSize": 10, "fontWeight": "bold", "baseline": "bottom", "align": "center", "dy": -1},
      "encoding": {"x": {"field": "k", "type": "quantitative", "axis": null}, "y": {"field": "ym", "type": "quantitative", "axis": null}, "text": {"field": "t"}}}
    ]}
  ]
 }
 ]
},
{
 "spacing": 6,
 "resolve": {"scale": {"fill": "independent", "stroke": "independent", "color": "independent"}},
 "hconcat": [
 {
  "title": {"text": "C", "offset": -5, "dx": -8},
  "spacing": 8,
  "resolve": {"scale": {"fill": "independent", "stroke": "independent"}},
  "vconcat": [
   {
    "width": 200, "height": 10,
    "data": {"values": [{"t": "Day 5"}]},
    "layer": [
     {"mark": {"type": "text", "fontSize": 12.5, "fontWeight": "bold", "baseline": "middle", "align": "center", "color": "#000"},
      "encoding": {"x": {"datum": 90, "type": "quantitative", "scale": {"domain": [0, 200], "nice": false}, "axis": null},
        "y": {"datum": 8.7, "type": "quantitative", "scale": {"domain": [0, 10], "nice": false}, "axis": null},
        "text": {"field": "t"}}},
     {"mark": {"type": "rule", "color": "#222", "strokeWidth": 1.5},
      "encoding": {"x": {"datum": -52, "type": "quantitative", "axis": null}, "x2": {"datum": 200}, "y": {"datum": 0.7, "type": "quantitative", "axis": null}}},
     {"transform": [{"filter": "false"}],
      "mark": {"type": "point", "filled": true, "stroke": "#000", "strokeWidth": 1, "opacity": 1},
      "encoding": {"fill": {"field": "g", "type": "nominal", "scale": {"domain": ["CD8⁺ RABV-G", "CD4⁺ RABV-G", "DP RABV-G"], "range": ["#111111", "#3cb4e5", "#f5a25d"]},
          "legend": {"orient": "none", "legendX": -54, "legendY": -21, "direction": "horizontal", "columns": 3, "title": null, "symbolType": "circle", "symbolSize": 100, "symbolStrokeColor": "#000", "symbolStrokeWidth": 1, "labelFontSize": 9.8, "labelFontWeight": "normal", "labelOffset": 3, "columnPadding": 0}}}}
    ]
   },
   {
   "spacing": 8,
   "hconcat": [
   {
    "width": 85, "height": 92,
    "view": {"stroke": "#e6e6e6"},
    "data": {"values": [
{"g":"CD8⁺ RABV-G","x":0,"y":0},{"g":"CD8⁺ RABV-G","x":18.4,"y":0},{"g":"CD8⁺ RABV-G","x":22,"y":3},{"g":"CD8⁺ RABV-G","x":26.7,"y":12.7},{"g":"CD8⁺ RABV-G","x":30,"y":32.7},{"g":"CD8⁺ RABV-G","x":32.7,"y":47},{"g":"CD8⁺ RABV-G","x":34,"y":45},{"g":"CD8⁺ RABV-G","x":36,"y":33},{"g":"CD8⁺ RABV-G","x":38.3,"y":11},{"g":"CD8⁺ RABV-G","x":41.7,"y":0},{"g":"CD8⁺ RABV-G","x":100,"y":0},
{"g":"CD4⁺ RABV-G","x":0,"y":0},{"g":"CD4⁺ RABV-G","x":26.7,"y":0},{"g":"CD4⁺ RABV-G","x":33,"y":2},{"g":"CD4⁺ RABV-G","x":36.7,"y":5},{"g":"CD4⁺ RABV-G","x":40,"y":9},{"g":"CD4⁺ RABV-G","x":43.3,"y":14.5},{"g":"CD4⁺ RABV-G","x":45,"y":28},{"g":"CD4⁺ RABV-G","x":46.7,"y":50},{"g":"CD4⁺ RABV-G","x":48.3,"y":85},{"g":"CD4⁺ RABV-G","x":49.2,"y":81},{"g":"CD4⁺ RABV-G","x":50,"y":84},{"g":"CD4⁺ RABV-G","x":50.8,"y":81},{"g":"CD4⁺ RABV-G","x":51.7,"y":87},{"g":"CD4⁺ RABV-G","x":53.3,"y":73},{"g":"CD4⁺ RABV-G","x":55,"y":52},{"g":"CD4⁺ RABV-G","x":56.7,"y":33},{"g":"CD4⁺ RABV-G","x":60,"y":14.5},{"g":"CD4⁺ RABV-G","x":65,"y":2},{"g":"CD4⁺ RABV-G","x":70,"y":0},{"g":"CD4⁺ RABV-G","x":100,"y":0},
{"g":"DP RABV-G","x":0,"y":0},{"g":"DP RABV-G","x":20,"y":0},{"g":"DP RABV-G","x":22,"y":3},{"g":"DP RABV-G","x":24,"y":6},{"g":"DP RABV-G","x":26,"y":3},{"g":"DP RABV-G","x":28.3,"y":0},{"g":"DP RABV-G","x":33,"y":0},{"g":"DP RABV-G","x":37,"y":2},{"g":"DP RABV-G","x":40,"y":4},{"g":"DP RABV-G","x":45,"y":11},{"g":"DP RABV-G","x":48.3,"y":25},{"g":"DP RABV-G","x":50.7,"y":45},{"g":"DP RABV-G","x":52,"y":44},{"g":"DP RABV-G","x":52.7,"y":40},{"g":"DP RABV-G","x":55,"y":22},{"g":"DP RABV-G","x":58.3,"y":11},{"g":"DP RABV-G","x":62.7,"y":0},{"g":"DP RABV-G","x":100,"y":0}
    ]},
    "mark": {"type": "line", "interpolate": "monotone", "strokeWidth": 1.5},
    "encoding": {
     "x": {"field": "x", "type": "quantitative", "scale": {"domain": [0, 100], "nice": false}, "title": "IFNγ - PE",
       "axis": {"values": [4, 10, 16, 22, 28, 34, 40, 44, 47, 53, 58, 62, 65, 68, 71, 73, 75, 82, 87, 91, 94, 97], "labelExpr": "datum.value == 16 ? '0' : datum.value == 47 ? '10⁴' : datum.value == 75 ? '10⁶' : ''", "labelFontSize": 10, "labelFontWeight": "normal", "labelColor": "#222", "tickSize": 3, "tickWidth": 1, "domainWidth": 1, "titleFontSize": 11.5, "titleFontWeight": "normal", "titlePadding": 3, "labelPadding": 1, "labelOverlap": false, "labelFlush": false}},
     "y": {"field": "y", "type": "quantitative", "scale": {"domain": [0, 100], "nice": false}, "title": "Normalized To Mode",
       "axis": {"values": [0, 10, 20, 30, 40, 50, 60, 70, 80, 90, 100], "labelExpr": "datum.value % 20 == 0 ? datum.label : ''", "labelFontSize": 10, "labelFontWeight": "normal", "labelColor": "#222", "tickSize": 3, "tickWidth": 1, "domainWidth": 1, "titleFontSize": 11.5, "titleFontWeight": "normal", "titlePadding": 5, "labelPadding": 2, "labelOverlap": false, "labelFlush": false}},
     "stroke": {"field": "g", "type": "nominal", "scale": {"domain": ["CD8⁺ RABV-G", "CD4⁺ RABV-G", "DP RABV-G"], "range": ["#111111", "#3cb4e5", "#f5a25d"]}, "legend": null}
    }
   },
   {
    "width": 62, "height": 92,
    "view": {"stroke": "#e6e6e6"},
    "data": {"values": [
{"g":"CD8⁺ RABV-G","x":-1,"y":0},{"g":"CD8⁺ RABV-G","x":10.7,"y":0},{"g":"CD8⁺ RABV-G","x":14,"y":14.5},{"g":"CD8⁺ RABV-G","x":17.3,"y":55},{"g":"CD8⁺ RABV-G","x":20.7,"y":71},{"g":"CD8⁺ RABV-G","x":22.5,"y":74},{"g":"CD8⁺ RABV-G","x":24.7,"y":77},{"g":"CD8⁺ RABV-G","x":27.3,"y":73},{"g":"CD8⁺ RABV-G","x":30.7,"y":55},{"g":"CD8⁺ RABV-G","x":34,"y":33},{"g":"CD8⁺ RABV-G","x":37.3,"y":14.5},{"g":"CD8⁺ RABV-G","x":40.7,"y":4},{"g":"CD8⁺ RABV-G","x":44,"y":0},{"g":"CD8⁺ RABV-G","x":78,"y":0},
{"g":"CD4⁺ RABV-G","x":-1,"y":0},{"g":"CD4⁺ RABV-G","x":27.3,"y":0},{"g":"CD4⁺ RABV-G","x":30,"y":8},{"g":"CD4⁺ RABV-G","x":32.3,"y":22},{"g":"CD4⁺ RABV-G","x":35,"y":30},{"g":"CD4⁺ RABV-G","x":37.3,"y":36},{"g":"CD4⁺ RABV-G","x":40.7,"y":73},{"g":"CD4⁺ RABV-G","x":43,"y":84},{"g":"CD4⁺ RABV-G","x":44.5,"y":80},{"g":"CD4⁺ RABV-G","x":45.7,"y":69},{"g":"CD4⁺ RABV-G","x":49,"y":29},{"g":"CD4⁺ RABV-G","x":52.3,"y":4},{"g":"CD4⁺ RABV-G","x":55.7,"y":0},{"g":"CD4⁺ RABV-G","x":78,"y":0},
{"g":"DP RABV-G","x":-1,"y":0},{"g":"DP RABV-G","x":14,"y":0},{"g":"DP RABV-G","x":20.7,"y":4},{"g":"DP RABV-G","x":27.3,"y":5.5},{"g":"DP RABV-G","x":32.3,"y":11},{"g":"DP RABV-G","x":35.7,"y":22},{"g":"DP RABV-G","x":38.3,"y":44},{"g":"DP RABV-G","x":40.7,"y":33},{"g":"DP RABV-G","x":43.3,"y":14.5},{"g":"DP RABV-G","x":47.3,"y":2},{"g":"DP RABV-G","x":50.7,"y":0},{"g":"DP RABV-G","x":78,"y":0}
    ]},
    "mark": {"type": "line", "interpolate": "monotone", "strokeWidth": 1.5},
    "encoding": {
     "x": {"field": "x", "type": "quantitative", "scale": {"domain": [-1, 78], "nice": false, "zero": false}, "title": "IL-17A - BUV737",
       "axis": {"values": [1, 6, 11, 16, 21, 26, 31, 36, 41, 46, 51, 57, 60, 63, 66, 68, 70, 72, 74, 76], "labelExpr": "datum.value == 1 ? '-10⁴' : datum.value == 26 ? '0' : datum.value == 57 ? '10⁴' : datum.value == 74 ? '10⁵' : ''", "labelFontSize": 9, "labelFontWeight": "normal", "labelColor": "#222", "tickSize": 3, "tickWidth": 1, "domainWidth": 1, "titleFontSize": 11.5, "titleFontWeight": "normal", "titlePadding": 3, "labelPadding": 1, "labelOverlap": false, "labelFlush": false}},
     "y": {"field": "y", "type": "quantitative", "scale": {"domain": [0, 100], "nice": false}, "title": "Normalized To Mode",
       "axis": {"values": [0, 10, 20, 30, 40, 50, 60, 70, 80, 90, 100], "labelExpr": "datum.value % 20 == 0 ? datum.label : ''", "labelFontSize": 10, "labelFontWeight": "normal", "labelColor": "#222", "tickSize": 3, "tickWidth": 1, "domainWidth": 1, "titleFontSize": 11.5, "titleFontWeight": "normal", "titlePadding": 5, "labelPadding": 2, "labelOverlap": false, "labelFlush": false}},
     "stroke": {"field": "g", "type": "nominal", "scale": {"domain": ["CD8⁺ RABV-G", "CD4⁺ RABV-G", "DP RABV-G"], "range": ["#111111", "#3cb4e5", "#f5a25d"]}, "legend": null}
    }
   }
   ]
   }
  ]
 },
 {
  "title": {"text": "D", "offset": 6, "dx": -14},
  "spacing": 14,
  "resolve": {"scale": {"fill": "independent"}},
  "hconcat": [
   {
    "width": 145, "height": 116,
    "resolve": {"scale": {"x": "independent"}, "axis": {"y": "independent"}},
    "layer": [
     {"data": {"values": [
{"h":"0","g":"DP RABV-G","v":4.4,"lo":3.9,"hi":4.9},{"h":"5","g":"DP RABV-G","v":6.6,"lo":5.0,"hi":8.2},{"h":"24","g":"DP RABV-G","v":7.1,"lo":6.5,"hi":7.7},{"h":"48","g":"DP RABV-G","v":8.3,"lo":6.8,"hi":10.3},{"h":"72","g":"DP RABV-G","v":8.8,"lo":7.2,"hi":10.4},{"h":"96","g":"DP RABV-G","v":11.3,"lo":7.9,"hi":14.6},{"h":"120","g":"DP RABV-G","v":18.3,"lo":15.8,"hi":20.8},
{"h":"0","g":"CD4⁺ RABV-G","v":5.7,"lo":5.3,"hi":6.1},{"h":"5","g":"CD4⁺ RABV-G","v":6.3,"lo":4.6,"hi":8.0},{"h":"24","g":"CD4⁺ RABV-G","v":6.8,"lo":6.3,"hi":7.3},{"h":"48","g":"CD4⁺ RABV-G","v":6.9,"lo":6.3,"hi":7.5},{"h":"72","g":"CD4⁺ RABV-G","v":8.6,"lo":7.8,"hi":9.4},{"h":"96","g":"CD4⁺ RABV-G","v":10.2,"lo":7.6,"hi":12.6},{"h":"120","g":"CD4⁺ RABV-G","v":17.5,"lo":14.8,"hi":20.4},
{"h":"0","g":"CD8⁺ RABV-G","v":3.4,"lo":3.0,"hi":3.8},{"h":"5","g":"CD8⁺ RABV-G","v":3.4,"lo":2.3,"hi":4.5},{"h":"24","g":"CD8⁺ RABV-G","v":3.05,"lo":2.5,"hi":3.6},{"h":"48","g":"CD8⁺ RABV-G","v":3.4,"lo":3.0,"hi":3.8},{"h":"72","g":"CD8⁺ RABV-G","v":3.6,"lo":3.2,"hi":4.0},{"h":"96","g":"CD8⁺ RABV-G","v":3.6,"lo":3.3,"hi":3.9},{"h":"120","g":"CD8⁺ RABV-G","v":4.4,"lo":3.9,"hi":4.9}
      ]},
      "layer": [
       {"mark": {"type": "line", "color": "#1a1a1a", "strokeWidth": 1},
        "encoding": {"x": {"field": "h", "type": "ordinal", "sort": ["0","5","24","48","72","96","120"], "scale": {"type": "point", "padding": 0.61, "align": 0.615}, "title": "Hours", "axis": {"labelOverlap": false, "titlePadding": 1, "labelPadding": 1}},
          "y": {"field": "v", "type": "quantitative", "scale": {"domain": [0, 21], "nice": false}, "title": "IFNγ MFI (x 10³)", "axis": {"values": [0, 3, 6, 9, 12, 15, 18, 21], "labelOverlap": false}},
          "detail": {"field": "g"}}},
       {"mark": {"type": "rule", "color": "#3a3a3a", "strokeWidth": 1},
        "encoding": {"x": {"field": "h", "type": "ordinal", "sort": ["0","5","24","48","72","96","120"], "title": "Hours", "axis": {"labelOverlap": false, "titlePadding": 1, "labelPadding": 1}},
          "y": {"field": "lo", "type": "quantitative", "title": "IFNγ MFI (x 10³)", "axis": {"values": [0, 3, 6, 9, 12, 15, 18, 21], "labelOverlap": false}}, "y2": {"field": "hi"}}},
       {"mark": {"type": "tick", "orient": "horizontal", "color": "#3a3a3a", "size": 8, "thickness": 1},
        "encoding": {"x": {"field": "h", "type": "ordinal", "sort": ["0","5","24","48","72","96","120"], "title": "Hours", "axis": {"labelOverlap": false, "titlePadding": 1, "labelPadding": 1}},
          "y": {"field": "hi", "type": "quantitative", "title": "IFNγ MFI (x 10³)", "axis": {"values": [0, 3, 6, 9, 12, 15, 18, 21], "labelOverlap": false}}}},
       {"mark": {"type": "tick", "orient": "horizontal", "color": "#3a3a3a", "size": 8, "thickness": 1},
        "encoding": {"x": {"field": "h", "type": "ordinal", "sort": ["0","5","24","48","72","96","120"], "title": "Hours", "axis": {"labelOverlap": false, "titlePadding": 1, "labelPadding": 1}},
          "y": {"field": "lo", "type": "quantitative", "title": "IFNγ MFI (x 10³)", "axis": {"values": [0, 3, 6, 9, 12, 15, 18, 21], "labelOverlap": false}}}},
       {"mark": {"type": "point", "filled": true, "size": 80, "stroke": "#000", "strokeWidth": 1, "opacity": 1},
        "encoding": {"x": {"field": "h", "type": "ordinal", "sort": ["0","5","24","48","72","96","120"], "title": "Hours", "axis": {"labelOverlap": false, "titlePadding": 1, "labelPadding": 1}},
          "y": {"field": "v", "type": "quantitative", "title": "IFNγ MFI (x 10³)", "axis": {"values": [0, 3, 6, 9, 12, 15, 18, 21], "labelOverlap": false}},
          "fill": {"field": "g", "type": "nominal", "scale": {"domain": ["DP RABV-G", "CD4⁺ RABV-G", "CD8⁺ RABV-G"], "range": ["#f5a25d", "#3cb4e5", "#111111"]}, "legend": null}}}
      ]},
     {"data": {"values": [
{"k":1,"y1":17.5,"y2":4.4,"ym":10.95,"t":"****"},{"k":2,"y1":18.3,"y2":4.4,"ym":11.35,"t":"****"}
      ]},
      "layer": [
       {"mark": {"type": "rule", "color": "#3a3a3a", "strokeWidth": 1},
        "encoding": {"x": {"field": "k", "type": "quantitative", "scale": {"domain": [-8.81, 0.815], "nice": false, "zero": false}, "axis": null},
          "y": {"field": "y1", "type": "quantitative", "axis": null}, "y2": {"field": "y2"}}},
       {"mark": {"type": "tick", "orient": "horizontal", "color": "#3a3a3a", "size": 5, "thickness": 1},
        "encoding": {"x": {"field": "k", "type": "quantitative", "axis": null}, "y": {"field": "y1", "type": "quantitative", "axis": null}}},
       {"mark": {"type": "tick", "orient": "horizontal", "color": "#3a3a3a", "size": 5, "thickness": 1},
        "encoding": {"x": {"field": "k", "type": "quantitative", "axis": null}, "y": {"field": "y2", "type": "quantitative", "axis": null}}},
       {"mark": {"type": "text", "angle": 90, "fontSize": 10, "fontWeight": "bold", "baseline": "bottom", "align": "center", "dy": -1},
        "encoding": {"x": {"field": "k", "type": "quantitative", "axis": null}, "y": {"field": "ym", "type": "quantitative", "axis": null}, "text": {"field": "t"}}}
      ]}
    ]
   },
   {
    "width": 145, "height": 116,
    "resolve": {"scale": {"x": "independent"}, "axis": {"y": "independent"}},
    "layer": [
     {"data": {"values": [
{"h":"0","g":"DP RABV-G","v":2.13,"lo":2.03,"hi":2.23},{"h":"5","g":"DP RABV-G","v":1.79,"lo":1.4,"hi":2.2},{"h":"24","g":"DP RABV-G","v":1.75,"lo":1.68,"hi":1.82},{"h":"48","g":"DP RABV-G","v":1.84,"lo":1.75,"hi":1.93},{"h":"72","g":"DP RABV-G","v":3.32,"lo":3.22,"hi":3.42},{"h":"96","g":"DP RABV-G","v":3.32,"lo":3.24,"hi":3.4},{"h":"120","g":"DP RABV-G","v":3.54,"lo":3.2,"hi":3.88},
{"h":"0","g":"CD4⁺ RABV-G","v":0.63,"lo":0.55,"hi":0.71},{"h":"5","g":"CD4⁺ RABV-G","v":3.6,"lo":1.42,"hi":5.78},{"h":"24","g":"CD4⁺ RABV-G","v":0.29,"lo":0.24,"hi":0.34},{"h":"48","g":"CD4⁺ RABV-G","v":0.48,"lo":0.4,"hi":0.56},{"h":"72","g":"CD4⁺ RABV-G","v":1.67,"lo":1.24,"hi":2.1},{"h":"96","g":"CD4⁺ RABV-G","v":1.92,"lo":1.6,"hi":2.24},{"h":"120","g":"CD4⁺ RABV-G","v":1.67,"lo":1.6,"hi":1.74},
{"h":"0","g":"CD8⁺ RABV-G","v":0.48,"lo":0.42,"hi":0.54},{"h":"5","g":"CD8⁺ RABV-G","v":1.04,"lo":0.63,"hi":1.45},{"h":"24","g":"CD8⁺ RABV-G","v":0.29,"lo":0.24,"hi":0.34},{"h":"48","g":"CD8⁺ RABV-G","v":0.63,"lo":0.55,"hi":0.71},{"h":"72","g":"CD8⁺ RABV-G","v":0.71,"lo":0.58,"hi":0.84},{"h":"96","g":"CD8⁺ RABV-G","v":1.36,"lo":0.98,"hi":1.74},{"h":"120","g":"CD8⁺ RABV-G","v":0.95,"lo":0.88,"hi":1.02}
      ]},
      "layer": [
       {"mark": {"type": "line", "color": "#1a1a1a", "strokeWidth": 1},
        "encoding": {"x": {"field": "h", "type": "ordinal", "sort": ["0","5","24","48","72","96","120"], "scale": {"type": "point", "padding": 0.92, "align": 0.7}, "title": "Hours", "axis": {"labelOverlap": false, "titlePadding": 1, "labelPadding": 1}},
          "y": {"field": "v", "type": "quantitative", "scale": {"domain": [0, 6], "nice": false}, "title": "IL-17A MFI (x 10³)", "axis": {"values": [0, 1, 2, 3, 4, 5, 6], "labelOverlap": false}},
          "detail": {"field": "g"}}},
       {"mark": {"type": "rule", "color": "#3a3a3a", "strokeWidth": 1},
        "encoding": {"x": {"field": "h", "type": "ordinal", "sort": ["0","5","24","48","72","96","120"], "title": "Hours", "axis": {"labelOverlap": false, "titlePadding": 1, "labelPadding": 1}},
          "y": {"field": "lo", "type": "quantitative", "title": "IL-17A MFI (x 10³)", "axis": {"values": [0, 1, 2, 3, 4, 5, 6], "labelOverlap": false}}, "y2": {"field": "hi"}}},
       {"mark": {"type": "tick", "orient": "horizontal", "color": "#3a3a3a", "size": 8, "thickness": 1},
        "encoding": {"x": {"field": "h", "type": "ordinal", "sort": ["0","5","24","48","72","96","120"], "title": "Hours", "axis": {"labelOverlap": false, "titlePadding": 1, "labelPadding": 1}},
          "y": {"field": "hi", "type": "quantitative", "title": "IL-17A MFI (x 10³)", "axis": {"values": [0, 1, 2, 3, 4, 5, 6], "labelOverlap": false}}}},
       {"mark": {"type": "tick", "orient": "horizontal", "color": "#3a3a3a", "size": 8, "thickness": 1},
        "encoding": {"x": {"field": "h", "type": "ordinal", "sort": ["0","5","24","48","72","96","120"], "title": "Hours", "axis": {"labelOverlap": false, "titlePadding": 1, "labelPadding": 1}},
          "y": {"field": "lo", "type": "quantitative", "title": "IL-17A MFI (x 10³)", "axis": {"values": [0, 1, 2, 3, 4, 5, 6], "labelOverlap": false}}}},
       {"mark": {"type": "point", "filled": true, "size": 80, "stroke": "#000", "strokeWidth": 1, "opacity": 1},
        "encoding": {"x": {"field": "h", "type": "ordinal", "sort": ["0","5","24","48","72","96","120"], "title": "Hours", "axis": {"labelOverlap": false, "titlePadding": 1, "labelPadding": 1}},
          "y": {"field": "v", "type": "quantitative", "title": "IL-17A MFI (x 10³)", "axis": {"values": [0, 1, 2, 3, 4, 5, 6], "labelOverlap": false}},
          "fill": {"field": "g", "type": "nominal", "scale": {"domain": ["DP RABV-G", "CD4⁺ RABV-G", "CD8⁺ RABV-G"], "range": ["#f5a25d", "#3cb4e5", "#111111"]},
            "legend": {"orient": "none", "legendX": 113, "legendY": -11, "title": null, "symbolType": "circle", "symbolSize": 64, "symbolStrokeColor": "#000", "symbolStrokeWidth": 1, "labelFontSize": 8.3, "labelFontWeight": "normal", "labelOffset": 3, "rowPadding": 1}}}}
      ]},
     {"data": {"values": [
{"k":1,"y1":1.67,"y2":0.95,"ym":1.31,"t":"*"},{"k":2,"y1":3.54,"y2":1.67,"ym":2.6,"t":"***"},{"k":3,"y1":3.54,"y2":0.95,"ym":2.25,"t":"****"}
      ]},
      "layer": [
       {"mark": {"type": "rule", "color": "#3a3a3a", "strokeWidth": 1},
        "encoding": {"x": {"field": "k", "type": "quantitative", "scale": {"domain": [-13.31, 0.17], "nice": false, "zero": false}, "axis": null},
          "y": {"field": "y1", "type": "quantitative", "axis": null}, "y2": {"field": "y2"}}},
       {"mark": {"type": "tick", "orient": "horizontal", "color": "#3a3a3a", "size": 5, "thickness": 1},
        "encoding": {"x": {"field": "k", "type": "quantitative", "axis": null}, "y": {"field": "y1", "type": "quantitative", "axis": null}}},
       {"mark": {"type": "tick", "orient": "horizontal", "color": "#3a3a3a", "size": 5, "thickness": 1},
        "encoding": {"x": {"field": "k", "type": "quantitative", "axis": null}, "y": {"field": "y2", "type": "quantitative", "axis": null}}},
       {"mark": {"type": "text", "angle": 90, "fontSize": 10, "fontWeight": "bold", "baseline": "bottom", "align": "center", "dy": -1},
        "encoding": {"x": {"field": "k", "type": "quantitative", "axis": null}, "y": {"field": "ym", "type": "quantitative", "axis": null}, "text": {"field": "t"}}}
      ]}
    ]
   }
  ]
 }
 ]
}
]
}
